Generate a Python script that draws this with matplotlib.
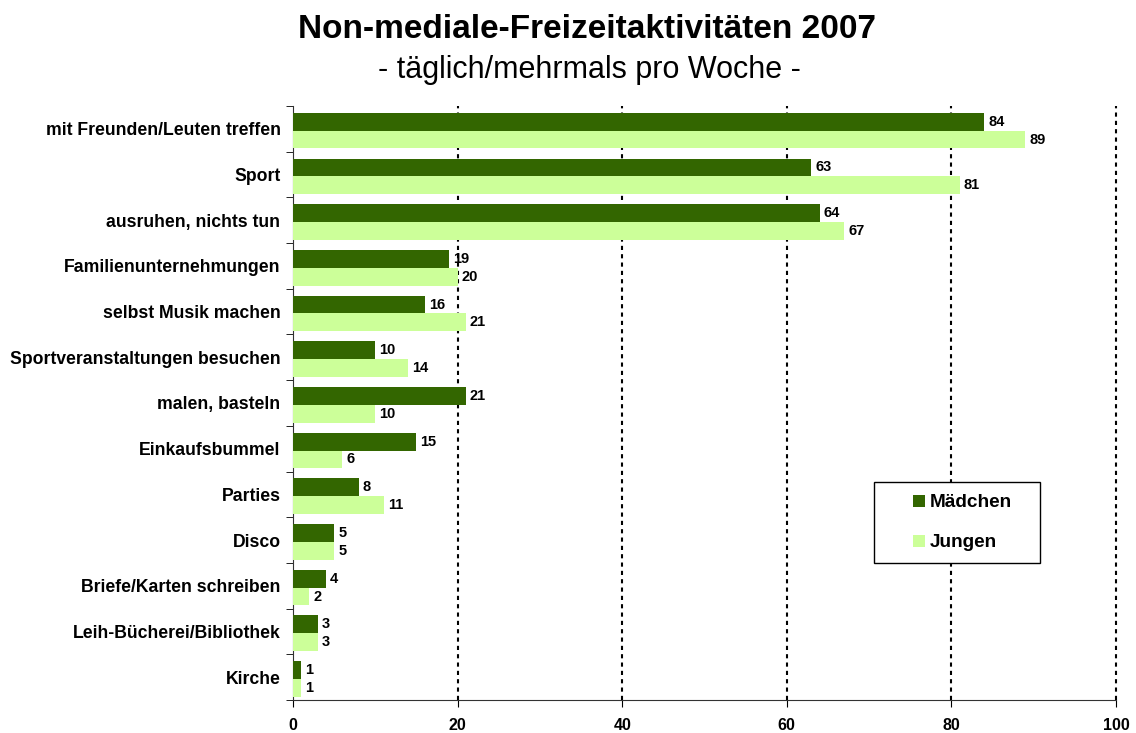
import matplotlib
matplotlib.use("Agg")
import matplotlib.pyplot as plt
from matplotlib.lines import Line2D
import numpy as np

plt.rcParams['font.family'] = ['Liberation Sans', 'DejaVu Sans']

categories = ["mit Freunden/Leuten treffen", "Sport", "ausruhen, nichts tun",
              "Familienunternehmungen", "selbst Musik machen",
              "Sportveranstaltungen besuchen", "malen, basteln", "Einkaufsbummel",
              "Parties", "Disco", "Briefe/Karten schreiben",
              "Leih-Bücherei/Bibliothek", "Kirche"]
maedchen = [84, 63, 64, 19, 16, 10, 21, 15, 8, 5, 4, 3, 1]
jungen = [89, 81, 67, 20, 21, 14, 10, 6, 11, 5, 2, 3, 1]
xticks = [0, 20, 40, 60, 80, 100]

c_m = "#336600"
c_j = "#CCFF99"

W, H = 1136, 733
fig = plt.figure(figsize=(W/100, H/100), dpi=100)
ax_l, ax_r, ax_t, ax_b = 293, 1116, 106, 700
ax = fig.add_axes([ax_l/W, 1-ax_b/H, (ax_r-ax_l)/W, (ax_b-ax_t)/H])

n = len(categories)
y = np.arange(n)
h = 0.39
off = 0.04
ax.barh(y - h/2 + off, maedchen, height=h, color=c_m, zorder=3)
ax.barh(y + h/2 + off, jungen, height=h, color=c_j, zorder=3)

for i in range(n):
    ax.text(maedchen[i] + 0.5, y[i] - h/2 + off, str(maedchen[i]), va='center', ha='left',
            fontsize=10.5, fontweight='bold', zorder=4)
    ax.text(jungen[i] + 0.5, y[i] + h/2 + off, str(jungen[i]), va='center', ha='left',
            fontsize=10.5, fontweight='bold', zorder=4)

ax.set_ylim(n - 0.5, -0.5)
ax.set_xlim(0, 100)
ax.set_xticks(xticks)
ax.set_xticklabels([str(t) for t in xticks], fontsize=11.5, fontweight='bold')
ax.set_yticks(y)
ax.set_yticklabels(categories, fontsize=12.7, fontweight='bold')
ax.tick_params(axis='y', length=0, pad=9)
ax.set_yticks(np.arange(n + 1) - 0.5, minor=True)
ax.tick_params(axis='y', which='minor', length=5, direction='out')
ax.tick_params(axis='x', length=5, direction='out', pad=8)
ax.xaxis.grid(True, linestyle=(0, (2, 2)), color='black', linewidth=1.5, zorder=0)
for gl in ax.get_xgridlines():
    gl.set_clip_on(False)
ax.get_xgridlines()[0].set_visible(False)
ax.spines['top'].set_visible(False)
ax.spines['right'].set_visible(False)
ax.spines['left'].set_color('#333333')
ax.spines['bottom'].set_color('#333333')

fig.text(587/W, 1-29/H, "Non-mediale-Freizeitaktivitäten 2007", ha='center', va='center',
         fontsize=24, fontweight='bold')
fig.text(589/W, 1-70/H, "- täglich/mehrmals pro Woche -", ha='center', va='center',
         fontsize=22)

handles = [Line2D([], [], marker='s', linestyle='none', markersize=8.6,
                  markerfacecolor=c_m, markeredgewidth=0),
           Line2D([], [], marker='s', linestyle='none', markersize=8.6,
                  markerfacecolor=c_j, markeredgewidth=0)]
lx0, lx1, ly0 = 874, 1040, 482
leg = ax.legend(handles, ["Mädchen", "Jungen"], loc='upper left',
                bbox_to_anchor=((lx0-ax_l)/(ax_r-ax_l), (ax_b-ly0)/(ax_b-ax_t),
                                (lx1-lx0)/(ax_r-ax_l), 0),
                mode='expand', frameon=True, fancybox=False, edgecolor='black',
                framealpha=1, facecolor='white',
                prop={'weight': 'bold', 'size': 13.7}, handlelength=3.5,
                labelspacing=1.2, borderpad=0.63, handletextpad=-1.18, borderaxespad=0)
leg.get_frame().set_linewidth(1.0)
leg.set_zorder(10)

fig.savefig("out.png", dpi=100)
